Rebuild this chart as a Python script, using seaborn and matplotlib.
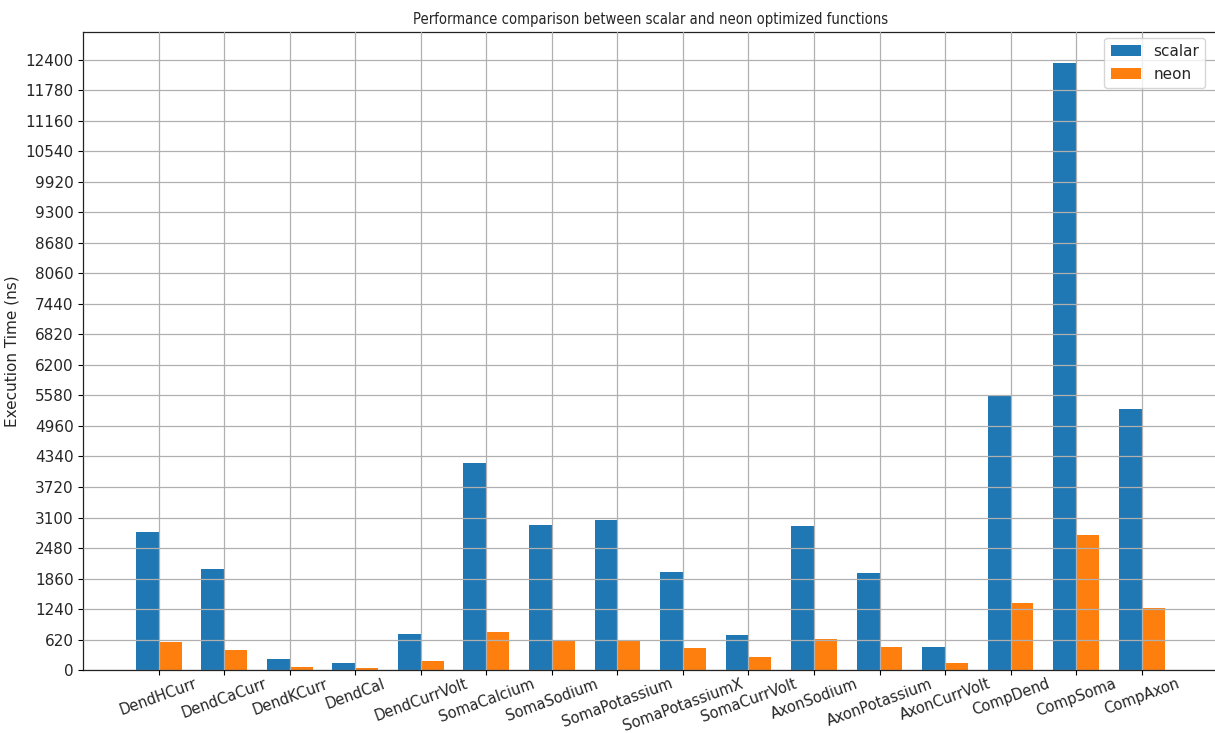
import numpy as np
import pandas as pd
import matplotlib
matplotlib.use("Agg")
import matplotlib.pyplot as plt
import seaborn as sns

functions = ["DendHCurr", "DendCaCurr", "DendKCurr", "DendCal", "DendCurrVolt",
             "SomaCalcium", "SomaSodium", "SomaPotassium", "SomaPotassiumX",
             "SomaCurrVolt", "AxonSodium", "AxonPotassium", "AxonCurrVolt",
             "CompDend", "CompSoma", "CompAxon"]
scalar_ns = [2800, 2050, 225, 145, 730, 4200, 2945, 3045, 1990, 710, 2925,
             1970, 465, 5570, 12345, 5300]
neon_ns = [570, 405, 60, 40, 185, 770, 590, 610, 445, 265, 630, 465, 140,
           1360, 2740, 1260]
y_ticks = np.arange(0, 12401, 620)

df = pd.DataFrame({
    "function": functions * 2,
    "time": scalar_ns + neon_ns,
    "impl": ["scalar"] * len(functions) + ["neon"] * len(functions),
})

sns.set_theme(style="ticks")
plt.rcParams["font.family"] = ["DejaVu Sans"]
plt.rcParams["font.size"] = 11

fig = plt.figure(figsize=(12.15, 7.33), dpi=100)
ax = fig.add_axes([0.0687, 0.0859, 0.9329, 0.8701])

sns.barplot(data=df, x="function", y="time", hue="impl", ax=ax,
            palette=["#1f77b4", "#ff7f0e"], saturation=1, width=0.7,
            linewidth=0, errorbar=None)

ax.set_xlim(-1.15, len(functions) - 1 + 1.15)
ax.set_ylim(0, max(scalar_ns) * 1.05)
ax.set_yticks(y_ticks)
ax.set_yticklabels([str(v) for v in y_ticks], fontsize=11)
ax.set_xticks(range(len(functions)))
ax.set_xticklabels(functions, rotation=20, ha="center", fontsize=10.5)
ax.tick_params(axis="both", direction="out", length=3.5, width=0.8,
               color="black")
ax.tick_params(axis="x", pad=1)
ax.tick_params(axis="y", pad=3.5)

ax.set_axisbelow(False)
ax.grid(True, color="#b0b0b0", linewidth=0.9)

for side in ["left", "bottom", "top"]:
    ax.spines[side].set_color("#222222")
    ax.spines[side].set_linewidth(0.9)
ax.spines["right"].set_visible(False)

ax.set_xlabel("")
ax.set_ylabel("Execution Time (ns)", fontsize=11)
ax.set_title("Performance comparison between scalar and neon optimized functions",
             fontsize=10.6, fontstretch="condensed", pad=6)

leg = ax.legend(loc="upper right", fontsize=11, frameon=True,
                bbox_to_anchor=(0.9965, 1.003))
leg.get_frame().set_edgecolor("#cccccc")

fig.savefig("out.png", dpi=100)
